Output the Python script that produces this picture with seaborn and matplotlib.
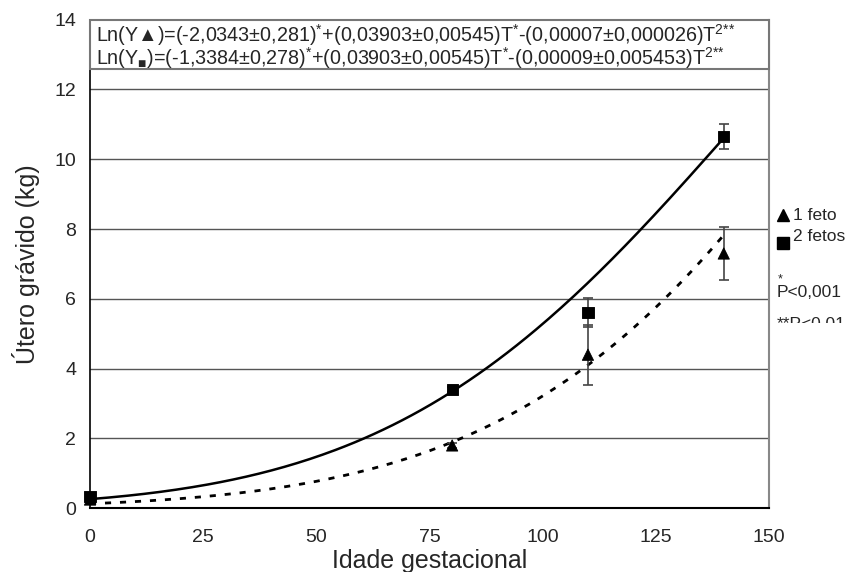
import numpy as np
import pandas as pd
import matplotlib
matplotlib.use('Agg')
import matplotlib.pyplot as plt
import seaborn as sns
from matplotlib.patches import Rectangle

# gestational age (days) and gravid uterus weight (kg)
idade = [0, 80, 110, 140]
um_feto = [0.25, 1.8, 4.4, 7.3]
um_feto_err = [0.05, 0.08, 0.86, 0.75]
dois_fetos = [0.33, 3.4, 5.6, 10.65]
dois_fetos_err = [0.05, 0.08, 0.42, 0.36]

# fitted model coefficients: Ln(Y) = a + b*T - c*T^2
coef_um = [-2.0343, 0.03903, 0.00007]
coef_dois = [-1.3384, 0.03903, 0.00009]

eq_um = 'Ln(Y▲)=(-2,0343±0,281)$^{{*}}$+(0,03903±0,00545)T$^{{*}}$-(0,00007±0,000026)T$^{2{*}{*}}$'
eq_dois = 'Ln(Y$_{■}$)=(-1,3384±0,278)$^{{*}}$+(0,03903±0,00545)T$^{{*}}$-(0,00009±0,005453)T$^{2{*}{*}}$'

sns.set_style('white')
plt.rcParams['font.family'] = ['Liberation Sans', 'DejaVu Sans']
plt.rcParams['mathtext.fontset'] = 'custom'
plt.rcParams['mathtext.rm'] = 'Liberation Sans'
plt.rcParams['mathtext.default'] = 'regular'

df = pd.DataFrame({'idade': idade * 2,
                   'peso': um_feto + dois_fetos,
                   'err': um_feto_err + dois_fetos_err,
                   'grupo': ['1 feto'] * 4 + ['2 fetos'] * 4})

fig = plt.figure(figsize=(8.54, 5.72), dpi=100)
ax = fig.add_axes([0.1054, 0.1114, 0.7951, 0.8542])

# fitted curves
t = np.linspace(0, 140, 200)
fit = pd.DataFrame({'t': t,
                    'um': np.exp(coef_um[0] + coef_um[1] * t - coef_um[2] * t ** 2),
                    'dois': np.exp(coef_dois[0] + coef_dois[1] * t - coef_dois[2] * t ** 2)})
sns.lineplot(data=fit, x='t', y='dois', ax=ax, color='black', lw=1.8, zorder=3)
sns.lineplot(data=fit, x='t', y='um', ax=ax, color='black', lw=2, zorder=3,
             dashes=False, linestyle=(0, (2.2, 3.2)))

# error bars + markers
for grp in ['1 feto', '2 fetos']:
    d = df[df['grupo'] == grp]
    ax.errorbar(d['idade'], d['peso'], yerr=d['err'], fmt='none', ecolor='#444444',
                elinewidth=1.2, capsize=3.5, capthick=1.2, zorder=4, clip_on=False)
sns.scatterplot(data=df, x='idade', y='peso', style='grupo', markers={'1 feto': '^', '2 fetos': 's'},
                color='black', s=65, edgecolor='black', ax=ax, zorder=5, clip_on=False, legend=False)

ax.set_xlim(0, 150)
ax.set_ylim(0, 14)
ax.set_xticks([0, 25, 50, 75, 100, 125, 150])
ax.set_yticks(np.arange(0, 15, 2))
for yv in range(2, 13, 2):
    ax.axhline(yv, color='#555555', lw=1, zorder=1)

ax.spines['top'].set_visible(False)
ax.spines['right'].set_color('#888888')
ax.spines['right'].set_linewidth(1.5)
ax.spines['left'].set_color('black')
ax.spines['bottom'].set_color('black')
ax.spines['left'].set_linewidth(1.2)
ax.spines['bottom'].set_linewidth(1.5)
ax.tick_params(axis='both', direction='out', length=5, width=1, color='black',
               labelsize=14, pad=5)
ax.tick_params(axis='x', pad=10)

ax.set_xlabel('Idade gestacional', fontsize=18, labelpad=0)
ax.set_ylabel('Útero grávido (kg)', fontsize=18, labelpad=10)
ax.xaxis.set_label_coords(0.5, -0.083)

# equation box
ax.add_patch(Rectangle((0, 12.58), 150, 1.42, facecolor='white', edgecolor='#777777',
                       lw=1.5, zorder=6, clip_on=False))
ax.text(1.3, 13.57, eq_um, fontsize=14.2, va='center', ha='left', zorder=7)
ax.text(1.3, 12.9, eq_dois, fontsize=14.2, va='center', ha='left', zorder=7)

# legend and notes on the right
fig.add_artist(plt.Line2D([0.9169], [0.624], marker='^', color='black', ls='none', markersize=8))
fig.add_artist(plt.Line2D([0.9169], [0.575], marker='s', color='black', ls='none', markersize=8))
fig.text(0.9286, 0.624, '1 feto', fontsize=12.5, va='center')
fig.text(0.9286, 0.586, '2 fetos', fontsize=12.5, va='center')
fig.text(0.911, 0.512, '*', fontsize=9, va='center')
fig.text(0.909, 0.488, 'P<0,001', fontsize=12.5, va='center')
fig.text(0.909, 0.432, '**P<0,01', fontsize=12.5, va='center')
fig.patches.append(Rectangle((0.905, 0.33), 0.1, 0.1053, transform=fig.transFigure,
                             facecolor='white', edgecolor='none', zorder=10))

fig.savefig('out.png', dpi=100)
